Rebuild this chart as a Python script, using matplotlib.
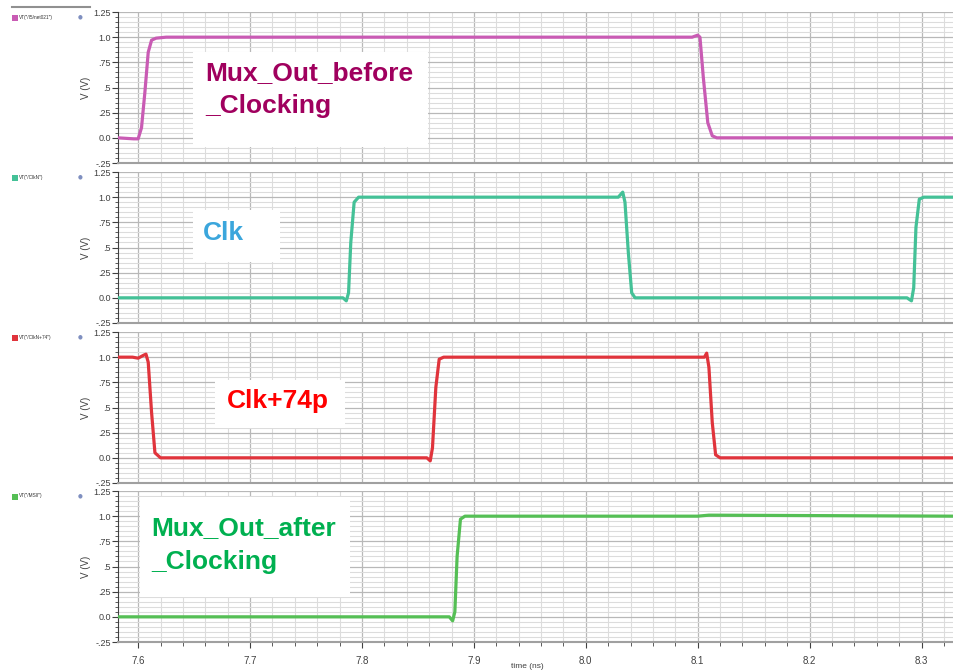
import numpy as np
import matplotlib.pyplot as plt
from matplotlib.patches import Rectangle
from matplotlib.ticker import MultipleLocator

# waveform breakpoints (time in ns, voltage in V)
mux_before_t = [7.582, 7.596, 7.600, 7.603, 7.606, 7.609, 7.612, 7.616, 7.625, 8.095, 8.100, 8.102, 8.105, 8.109, 8.113, 8.117, 8.329]
mux_before_v = [0.0, -0.01, -0.01, 0.10, 0.45, 0.85, 0.97, 0.99, 1.0, 1.0, 1.02, 1.0, 0.60, 0.15, 0.02, 0.0, 0.0]

clk_t = [7.582, 7.783, 7.786, 7.788, 7.790, 7.793, 7.797, 7.802, 8.029, 8.033, 8.035, 8.038, 8.041, 8.044, 8.050,
         8.287, 8.291, 8.293, 8.295, 8.298, 8.302, 8.329]
clk_v = [0.0, 0.0, -0.03, 0.05, 0.55, 0.95, 1.0, 1.0, 1.0, 1.05, 0.95, 0.45, 0.05, 0.0, 0.0,
         0.0, -0.03, 0.1, 0.7, 0.98, 1.0, 1.0]

clk74_t = [7.582, 7.595, 7.600, 7.605, 7.607, 7.609, 7.612, 7.615, 7.620, 7.858, 7.861, 7.863, 7.866, 7.869, 7.873,
           8.100, 8.106, 8.108, 8.110, 8.113, 8.116, 8.120, 8.329]
clk74_v = [1.0, 1.0, 0.99, 1.02, 1.03, 0.95, 0.45, 0.05, 0.0, 0.0, -0.03, 0.1, 0.7, 0.98, 1.0,
           1.0, 1.0, 1.04, 0.9, 0.35, 0.03, 0.0, 0.0]

mux_after_t = [7.582, 7.878, 7.881, 7.883, 7.885, 7.888, 7.892, 8.100, 8.110, 8.329]
mux_after_v = [0.0, 0.0, -0.04, 0.05, 0.6, 0.97, 1.0, 1.0, 1.01, 1.0]

labels = ["Mux_Out_before\n_Clocking", "Clk", "Clk+74p", "Mux_Out_after\n_Clocking"]
label_colors = ["#A0005E", "#3BA6DC", "#FF0000", "#00B050"]
trace_colors = ["#C95BB4", "#44C197", "#E0343C", "#55BF55"]
legend_names = ['VT("/I5/net021")', 'VT("/ClkN")', 'VT("/ClkN+74")', 'VT("/MSII")']

ytick_vals = [-0.25, 0.0, 0.25, 0.5, 0.75, 1.0, 1.25]
ytick_labels = ["-.25", "0.0", ".25", ".5", ".75", "1.0", "1.25"]
xtick_vals = [7.6, 7.7, 7.8, 7.9, 8.0, 8.1, 8.2, 8.3]

series = [(mux_before_t, mux_before_v), (clk_t, clk_v), (clk74_t, clk74_v), (mux_after_t, mux_after_v)]

W, H = 954, 672
fig = plt.figure(figsize=(W / 100, H / 100), dpi=100)
tickfont = ['Liberation Sans Narrow', 'Liberation Sans', 'DejaVu Sans']

panel_tops = [12, 172, 332, 491]
panel_h = 151
left = 118

# white boxes (data coords) and text anchors
boxes = [(7.649, -0.092, 7.859, 0.852), (7.649, 0.355, 7.727, 0.872),
         (7.669, 0.296, 7.785, 0.773), (7.602, 0.196, 7.789, 1.19)]
text_pos = [(7.660, 0.765), (7.658, 0.76), (7.679, 0.68), (7.612, 1.0)]

for i in range(4):
    top = panel_tops[i]
    ax = fig.add_axes([left / W, 1 - (top + panel_h) / H, (W - left) / W, panel_h / H])
    ax.set_xlim(7.582, 8.329)
    ax.set_ylim(-0.25, 1.25)

    ax.xaxis.set_major_locator(MultipleLocator(0.1))
    ax.xaxis.set_minor_locator(MultipleLocator(0.02))
    ax.yaxis.set_minor_locator(MultipleLocator(0.05))
    ax.set_yticks(ytick_vals)
    ax.set_yticklabels(ytick_labels, fontfamily=tickfont, fontsize=6.5, color="#404040")
    ax.grid(which="major", color="#b8b8b8", lw=0.9)
    ax.grid(which="minor", color="#dcdcdc", lw=0.8)
    ax.set_axisbelow(True)
    ax.tick_params(axis="y", which="major", length=4, width=0.8, color="#404040", pad=1)
    ax.tick_params(axis="y", which="minor", length=2, width=0.6, color="#404040")
    for s in ["top", "right"]:
        ax.spines[s].set_visible(False)
    ax.spines["left"].set_color("#404040")
    ax.spines["bottom"].set_color("#a0a0a0")
    ax.spines["bottom"].set_linewidth(1.5)
    ax.set_ylabel("V (V)", fontfamily=tickfont, fontsize=7, color="#404040", labelpad=2)

    if i < 3:
        ax.tick_params(axis="x", which="both", length=0, labelbottom=False)
    else:
        ax.set_xticks(xtick_vals)
        ax.set_xticklabels([f"{v:.1f}" for v in xtick_vals], fontfamily=tickfont, fontsize=7, color="#404040")
        ax.tick_params(axis="x", which="major", length=4, color="#404040", pad=6)
        ax.tick_params(axis="x", which="minor", length=3, color="#404040")

    x0, y0, x1, y1 = boxes[i]
    ax.add_patch(Rectangle((x0, y0), x1 - x0, y1 - y0, facecolor="white", edgecolor="none", zorder=1.5))
    t, v = series[i]
    ax.plot(t, v, color=trace_colors[i], lw=2.3, zorder=3, solid_joinstyle="round")
    tx, ty = text_pos[i]
    ax.text(tx, ty, labels[i], color=label_colors[i], fontsize=19, fontweight="bold",
            fontfamily=["Liberation Sans", "DejaVu Sans"], va="top", ha="left",
            linespacing=1.5, zorder=4)

    # left-hand legend entry
    ly = top + 5
    fig.patches.append(Rectangle((12 / W, 1 - (ly + 4) / H), 6 / W, 6 / H, transform=fig.transFigure,
                                 facecolor=trace_colors[i], edgecolor="none"))
    fig.text(19 / W, 1 - ly / H, legend_names[i], fontsize=3.4, fontfamily=tickfont, color="#303030", va="center")
    fig.text(80 / W, 1 - ly / H, "●", fontsize=4, color="#7f8fc0", va="center", ha="center")

fig.text(527 / W, 1 - 666 / H, "time (ns)", fontfamily=tickfont, fontsize=6, color="#404040",
         ha="center", va="center")
fig.add_artist(plt.Line2D([12 / W, 90 / W], [1 - 7 / H, 1 - 7 / H], color="#909090", lw=1.5))

fig.savefig("out.png", dpi=100)
